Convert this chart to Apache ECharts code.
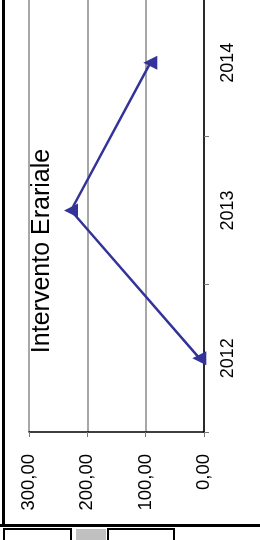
<!DOCTYPE html>
<html>
<head>
<meta charset="utf-8">
<script src="https://cdn.jsdelivr.net/npm/echarts@6/dist/echarts.min.js"></script>
<style>
  html, body { margin: 0; padding: 0; background: #fff; }
  #chart { width: 260px; height: 540px; }
</style>
</head>
<body>
<div id="chart"></div>
<script>
// dati (ruotato di 90°)
var anni = ['2012', '2013', '2014'];
var intervento = [8, 228, 92];
var tickValori = [0, 100, 200, 300];

var myChart = echarts.init(document.getElementById('chart'));

var option = {
    animation: false,
    grid: { left: 29, right: 56, top: -11, bottom: 108, outerBoundsMode: 'none' },
    xAxis: {
        type: 'value',
        min: tickValori[0],
        max: tickValori[tickValori.length - 1],
        interval: 100,
        inverse: true,
        position: 'bottom',
        axisLine: { show: true, lineStyle: { color: '#000', width: 1.5 } },
        axisTick: { show: true, length: 5, lineStyle: { color: '#777' } },
        splitLine: { show: true, lineStyle: { color: '#8a8a8a', width: 1.5 } },
        axisLabel: {
            rotate: 90,
            margin: 22,
            color: '#000',
            fontFamily: 'Liberation Sans',
            fontSize: 18.5,
            formatter: function (v) { return v.toFixed(2).replace('.', ','); }
        }
    },
    yAxis: {
        type: 'category',
        data: anni,
        position: 'right',
        axisLine: { show: true, onZero: false, lineStyle: { color: '#000', width: 1.5 } },
        axisTick: { show: true, length: 5, lineStyle: { color: '#777' } },
        splitLine: { show: false },
        axisLabel: {
            rotate: 90,
            margin: 15,
            color: '#000',
            fontFamily: 'Liberation Sans',
            fontSize: 18
        }
    },
    series: [{
        name: 'Intervento Erariale',
        type: 'line',
        data: intervento,
        symbol: 'triangle',
        symbolRotate: 90,
        symbolSize: 14,
        itemStyle: { color: '#333399' },
        lineStyle: { color: '#333399', width: 2.5 }
    }],
    graphic: [
        {   // titolo verticale
            type: 'text',
            x: 42, y: 251,
            rotation: Math.PI / 2,
            style: {
                text: 'Intervento Erariale',
                fontFamily: 'Liberation Sans',
                fontSize: 25,
                fill: '#000',
                align: 'center',
                verticalAlign: 'middle'
            }
        },
        // bordo sinistro e inferiore
        { type: 'rect', shape: { x: 2, y: 0, width: 3, height: 527 }, style: { fill: '#000' } },
        { type: 'rect', shape: { x: 0, y: 524, width: 260, height: 3 }, style: { fill: '#000' } },
        // caselle tagliate sotto
        { type: 'rect', shape: { x: 4, y: 529, width: 67, height: 20 }, style: { fill: '#fff', stroke: '#000', lineWidth: 2 } },
        { type: 'rect', shape: { x: 76, y: 529, width: 30, height: 20 }, style: { fill: '#c0c0c0' } },
        { type: 'rect', shape: { x: 108, y: 529, width: 66, height: 20 }, style: { fill: '#fff', stroke: '#000', lineWidth: 2 } }
    ]
};

myChart.setOption(option);
</script>
</body>
</html>
